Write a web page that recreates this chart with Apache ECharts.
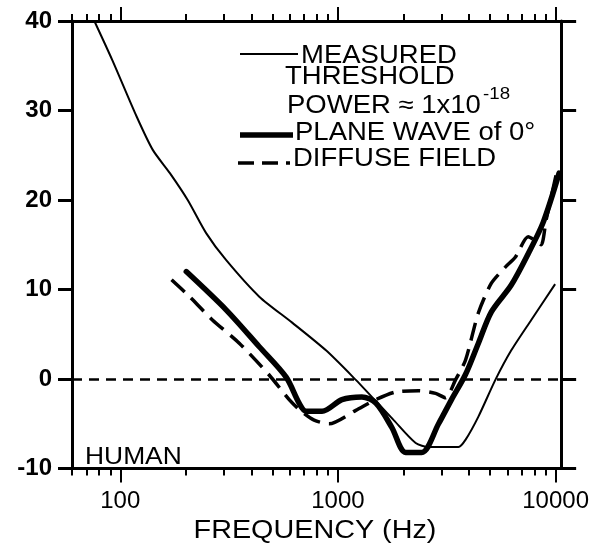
<!DOCTYPE html>
<html><head><meta charset="utf-8">
<script src="https://cdn.jsdelivr.net/npm/echarts@6/dist/echarts.min.js"></script>
<style>html,body{margin:0;padding:0;background:#fff}#c{width:592px;height:551px}</style>
</head><body><div id="c"></div>
<script>
// ---- data (frequency in Hz, level in dB) ----
const measuredHz = [76, 92, 119, 141, 169, 204, 248, 306, 435, 616, 881, 1208, 1431, 1804, 2275, 2609, 3579, 3853, 4418, 5286, 6255, 7727, 9947];
const measuredDb = [40, 35.6, 29.3, 25.6, 23.0, 20.0, 16.3, 13.3, 9.2, 6.3, 3.2, -0.1, -2.0, -4.6, -7.15, -7.6, -7.6, -6.8, -4.2, -0.1, 3.2, 6.6, 10.6];

const planeHz = [201, 307, 435, 578, 663, 714, 845, 1043, 1288, 1493, 1767, 2047, 2424, 2899, 3324, 3853, 4418, 5068, 6255, 7482, 8766, 10376];
const planeDb = [12.0, 7.7, 3.6, 0.2, -2.7, -3.6, -3.6, -2.3, -2.0, -2.7, -5.4, -8.2, -8.2, -5.0, -2.3, 0.5, 4.0, 7.5, 10.5, 14.0, 17.5, 23.0];

const diffuseHz = [172, 208, 265, 352, 483, 597, 677, 777, 910, 1208, 1493, 1843, 2348, 2809, 3120, 3467, 3853, 4418, 5068, 5875, 6525, 7482, 8054, 8583, 9049, 10050];
const diffuseDb = [11.1, 9.2, 6.6, 4.0, 0.45, -2.3, -3.6, -4.6, -5.0, -3.5, -2.3, -1.45, -1.3, -1.6, -2.1, -0.1, 2.1, 7.4, 10.7, 12.5, 13.6, 15.9, 15.5, 15.0, 17.8, 22.8];

const xRangeHz = [60, 10600];
const majorTicksHz = [100, 1000, 10000];
const minorTicksHz = [60, 70, 80, 90, 200, 300, 400, 500, 600, 700, 800, 900, 2000, 3000, 4000, 5000, 6000, 7000, 8000, 9000];
const yRange = [-10, 40];
const yInterval = 10;

// ---- build ----
const L = v => Math.log10(v);
const pairs = (hz, db) => hz.map((f, i) => [L(f), db[i]]);
const FONT = '"Liberation Sans", Arial, Helvetica, sans-serif';
const xMin = L(xRangeHz[0]), xMax = L(xRangeHz[1]);

function xAx(position, ticksHz, len, showLine, showLabels) {
  return {
    type: 'value', position: position, min: xMin, max: xMax,
    axisLine: { show: showLine, onZero: false, lineStyle: { color: '#000', width: 3 } },
    axisTick: { show: true, inside: false, length: len, customValues: ticksHz.map(L), lineStyle: { color: '#000', width: 2 } },
    axisLabel: showLabels ? {
      show: true, customValues: majorTicksHz.map(L), margin: 21,
      formatter: v => String(Math.round(Math.pow(10, v))),
      color: '#000', fontSize: 24, fontFamily: FONT
    } : { show: false },
    splitLine: { show: false }
  };
}

const chart = echarts.init(document.getElementById('c'), null, { renderer: 'canvas' });
const textEl = (txt, x, y, size, sx, extra) => Object.assign({
  type: 'text', x: x, y: y, scaleX: sx,
  style: { text: txt, fill: '#000', fontSize: size, fontFamily: FONT, verticalAlign: 'middle', align: 'left' }
}, extra || {});

chart.setOption({
  animation: false,
  backgroundColor: '#fff',
  grid: { left: 72, right: 29, top: 21, bottom: 82.5, containLabel: false },
  xAxis: [
    xAx('bottom', majorTicksHz, 14, true, true),
    xAx('bottom', minorTicksHz, 7, false, false),
    xAx('top', majorTicksHz, 14, true, false),
    xAx('top', minorTicksHz, 7, false, false)
  ],
  yAxis: [
    {
      type: 'value', position: 'left', min: yRange[0], max: yRange[1], interval: yInterval,
      axisLine: { show: true, onZero: false, lineStyle: { color: '#000', width: 3 } },
      axisTick: { show: true, inside: false, length: 14, lineStyle: { color: '#000', width: 3 } },
      axisLabel: { color: '#000', fontSize: 24, fontWeight: 'bold', fontFamily: FONT, margin: 20 },
      splitLine: { show: false }
    },
    {
      type: 'value', position: 'right', min: yRange[0], max: yRange[1], interval: yInterval,
      axisLine: { show: true, onZero: false, lineStyle: { color: '#000', width: 3 } },
      axisTick: { show: true, inside: false, length: 15, lineStyle: { color: '#000', width: 3 } },
      axisLabel: { show: false },
      splitLine: { show: false }
    }
  ],
  series: [
    {
      name: 'MEASURED THRESHOLD', type: 'line', data: pairs(measuredHz, measuredDb),
      smooth: 0.25, showSymbol: false, clip: true,
      lineStyle: { color: '#000', width: 2 },
      markLine: {
        silent: true, symbol: 'none', label: { show: false },
        lineStyle: { color: '#000', width: 2.5, type: [10, 7] },
        data: [{ yAxis: 0 }]
      }
    },
    {
      name: 'PLANE WAVE of 0°', type: 'line', data: pairs(planeHz, planeDb),
      smooth: 0.3, showSymbol: false, clip: true,
      lineStyle: { color: '#000', width: 5.5, cap: 'round' }
    },
    {
      name: 'DIFFUSE FIELD', type: 'line', data: pairs(diffuseHz, diffuseDb),
      smooth: 0.25, showSymbol: false, clip: true,
      lineStyle: { color: '#000', width: 3.5, type: [18, 9] }
    }
  ],
  graphic: [
    { type: 'line', shape: { x1: 240, y1: 54, x2: 298, y2: 54 }, style: { stroke: '#000', lineWidth: 2 } },
    { type: 'line', shape: { x1: 240, y1: 135, x2: 293, y2: 135 }, style: { stroke: '#000', lineWidth: 5.5 } },
    { type: 'line', shape: { x1: 238, y1: 163, x2: 290, y2: 163 }, style: { stroke: '#000', lineWidth: 3.5, lineDash: [16, 8] } },
    textEl('MEASURED', 301, 56, 25, 1.1),
    textEl('THRESHOLD', 285, 77, 25, 1.1),
    textEl('POWER \u2248 1x10', 287, 106, 25, 1.1),
    textEl('-18', 483, 94, 17, 1.1),
    textEl('PLANE WAVE of 0\u00B0', 295, 133, 25, 1.1),
    textEl('DIFFUSE FIELD', 293, 159, 25, 1.1),
    textEl('HUMAN', 85, 457, 24, 1.1),
    {
      type: 'text', x: 315, y: 531, scaleX: 1.15,
      style: { text: 'FREQUENCY (Hz)', fill: '#000', fontSize: 25, fontFamily: FONT, verticalAlign: 'middle', align: 'center' }
    }
  ]
});
</script>
</body></html>
